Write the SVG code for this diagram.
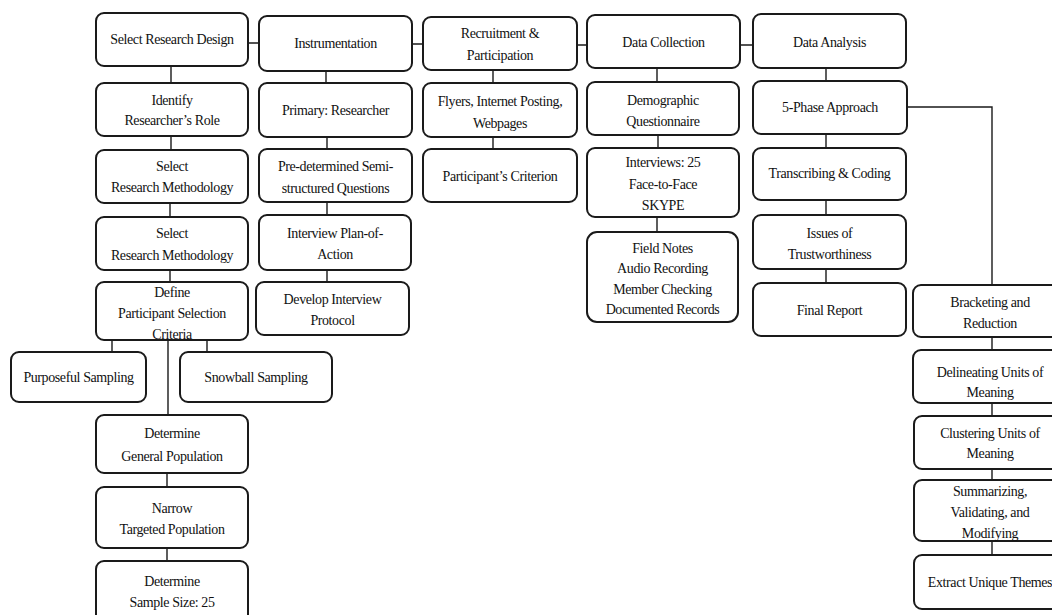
<svg xmlns="http://www.w3.org/2000/svg" width="1052" height="615" viewBox="0 0 1052 615">
<style>
.box{fill:#fff;stroke:#1a1a1a;stroke-width:2}
.c{stroke:#1a1a1a;stroke-width:1.4;fill:none}
text{font-family:"Liberation Serif","Times New Roman",serif;font-size:14px;letter-spacing:-0.4px;fill:#111;text-anchor:middle}
</style>
<rect width="1052" height="615" fill="#fff"/>
<g id="connectors">
<path class="c" d="M248 43H259M412 44H423M577 45H587M740 45H753"/>
<path class="c" d="M171 66V83M171 136V150M170 203V217M170 270V282M112 340V352M207 340V352M168 340V415M167 473V487M167 548V561"/>
<path class="c" d="M326 71V83M327 137V149M327 202V215M327 270V282"/>
<path class="c" d="M493 70V83M493 137V149"/>
<path class="c" d="M657 68V82M658 135V148M657 217V232"/>
<path class="c" d="M826 68V81M826 134V148M826 200V215M826 269V283"/>
<path class="c" d="M907 107H992V285M992 337V350M992 403V416M992 469V480M992 541V555"/>
</g>
<g id="n1"><rect class="box" x="96" y="13" width="152" height="53" rx="8"/><text x="172" y="44">Select Research Design</text></g>
<g id="n2"><rect class="box" x="96" y="83" width="152" height="53" rx="8"/><text x="172" y="105">Identify</text><text x="172" y="125">Researcher’s Role</text></g>
<g id="n3"><rect class="box" x="96" y="150" width="152" height="53" rx="8"/><text x="172" y="171">Select</text><text x="172" y="192">Research Methodology</text></g>
<g id="n4"><rect class="box" x="96" y="217" width="152" height="53" rx="8"/><text x="172" y="238">Select</text><text x="172" y="260">Research Methodology</text></g>
<g id="n5"><rect class="box" x="96" y="282" width="152" height="58" rx="8"/><text x="172" y="296.5">Define</text><text x="172" y="317.5">Participant Selection</text><text x="172" y="338.5">Criteria</text></g>
<g id="n6"><rect class="box" x="11" y="352" width="135" height="50" rx="8"/><text x="78.5" y="381.5">Purposeful Sampling</text></g>
<g id="n7"><rect class="box" x="180" y="352" width="152" height="50" rx="8"/><text x="256" y="381.5">Snowball Sampling</text></g>
<g id="n8"><rect class="box" x="96" y="415" width="152" height="58" rx="8"/><text x="172" y="437.5">Determine</text><text x="172" y="460.5">General Population</text></g>
<g id="n9"><rect class="box" x="96" y="487" width="152" height="61" rx="8"/><text x="172" y="512.5">Narrow</text><text x="172" y="533.5">Targeted Population</text></g>
<g id="n10"><rect class="box" x="96" y="561" width="152" height="62" rx="8"/><text x="172" y="585.5">Determine</text><text x="172" y="606.5">Sample Size: 25</text></g>
<g id="n11"><rect class="box" x="259" y="16" width="153" height="55" rx="8"/><text x="335.5" y="47.5">Instrumentation</text></g>
<g id="n12"><rect class="box" x="259" y="83" width="153" height="54" rx="8"/><text x="335.5" y="114.5">Primary: Researcher</text></g>
<g id="n13"><rect class="box" x="259" y="149" width="153" height="53" rx="8"/><text x="335.5" y="170.5">Pre-determined Semi-</text><text x="335.5" y="192.5">structured Questions</text></g>
<g id="n14"><rect class="box" x="259" y="215" width="152" height="55" rx="8"/><text x="335" y="237.5">Interview Plan-of-</text><text x="335" y="258.5">Action</text></g>
<g id="n15"><rect class="box" x="256" y="282" width="153" height="53" rx="8"/><text x="332.5" y="303.5">Develop Interview</text><text x="332.5" y="324.5">Protocol</text></g>
<g id="n16"><rect class="box" x="423" y="17" width="154" height="53" rx="8"/><text x="500" y="37.5">Recruitment &amp;</text><text x="500" y="59.5">Participation</text></g>
<g id="n17"><rect class="box" x="423" y="83" width="154" height="54" rx="8"/><text x="500" y="106">Flyers, Internet Posting,</text><text x="500" y="127.5">Webpages</text></g>
<g id="n18"><rect class="box" x="423" y="149" width="154" height="53" rx="8"/><text x="500" y="180.5">Participant’s Criterion</text></g>
<g id="n19"><rect class="box" x="587" y="15" width="153" height="53" rx="8"/><text x="663.5" y="46.5">Data Collection</text></g>
<g id="n20"><rect class="box" x="587" y="82" width="152" height="53" rx="8"/><text x="663" y="104.5">Demographic</text><text x="663" y="125.5">Questionnaire</text></g>
<g id="n21"><rect class="box" x="587" y="148" width="152" height="69" rx="8"/><text x="663" y="166.5">Interviews: 25</text><text x="663" y="188.5">Face-to-Face</text><text x="663" y="209.5">SKYPE</text></g>
<g id="n22"><rect class="box" x="587" y="232" width="151" height="90" rx="10"/><text x="662.5" y="252.5">Field Notes</text><text x="662.5" y="272.5">Audio Recording</text><text x="662.5" y="293.5">Member Checking</text><text x="662.5" y="313.5">Documented Records</text></g>
<g id="n23"><rect class="box" x="753" y="14" width="153" height="54" rx="8"/><text x="829.5" y="46.5">Data Analysis</text></g>
<g id="n24"><rect class="box" x="753" y="81" width="154" height="53" rx="8"/><text x="830" y="111.5">5-Phase Approach</text></g>
<g id="n25"><rect class="box" x="753" y="148" width="153" height="52" rx="8"/><text x="829.5" y="177.5">Transcribing &amp; Coding</text></g>
<g id="n26"><rect class="box" x="753" y="215" width="153" height="54" rx="8"/><text x="829.5" y="237.5">Issues of</text><text x="829.5" y="258.5">Trustworthiness</text></g>
<g id="n27"><rect class="box" x="753" y="283" width="153" height="53" rx="8"/><text x="829.5" y="314.5">Final Report</text></g>
<g id="n28"><rect class="box" x="913" y="285" width="154" height="52" rx="8"/><text x="990" y="306.5">Bracketing and</text><text x="990" y="327.5">Reduction</text></g>
<g id="n29"><rect class="box" x="913" y="350" width="154" height="53" rx="8"/><text x="990" y="376.5">Delineating Units of</text><text x="990" y="396.5">Meaning</text></g>
<g id="n30"><rect class="box" x="914" y="416" width="153" height="53" rx="8"/><text x="990" y="437.5">Clustering Units of</text><text x="990" y="457.5">Meaning</text></g>
<g id="n31"><rect class="box" x="914" y="480" width="153" height="61" rx="8"/><text x="990" y="495.5">Summarizing,</text><text x="990" y="516.5">Validating, and</text><text x="990" y="537.5">Modifying</text></g>
<g id="n32"><rect class="box" x="914" y="555" width="153" height="54" rx="8"/><text x="990" y="586.5">Extract Unique Themes</text></g>
</svg>
